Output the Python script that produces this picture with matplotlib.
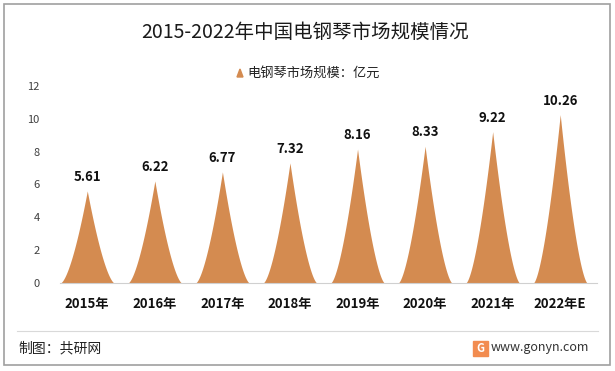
import numpy as np
import matplotlib
matplotlib.use("Agg")
import matplotlib.pyplot as plt
from matplotlib.patches import Rectangle
from matplotlib.lines import Line2D

plt.rcParams['font.family'] = ['Noto Sans CJK SC', 'DejaVu Sans']

years = ["2015年", "2016年", "2017年", "2018年", "2019年", "2020年", "2021年", "2022年E"]
values = [5.61, 6.22, 6.77, 7.32, 8.16, 8.33, 9.22, 10.26]
series_name = "电钢琴市场规模：亿元"
title = "2015-2022年中国电钢琴市场规模情况"
color = "#D48B50"

W, H = 615, 371
fig = plt.figure(figsize=(W / 100, H / 100), dpi=100)
ax = fig.add_axes([53.5 / W, 1 - 283 / H, (594 - 53.5) / W, (283 - 86) / H])

# pointed "peak" shapes
half = 0.40
for i, v in enumerate(values):
    t = np.linspace(-1, 1, 301)
    ax.fill_between(i + t * half, 0, v * (1 - np.abs(t)) ** 1.55, color=color, lw=0)
    ax.text(i, v + 0.85, f"{v:.2f}", ha="center", va="center",
            fontsize=9.5, fontweight="bold", color="#111111")

ax.set_xlim(-0.5, len(values) - 0.5)
ax.set_ylim(0, 12)
ax.set_yticks(range(0, 13, 2))
ax.set_xticks(range(len(years)))
ax.set_xticklabels(years, fontsize=9.5, fontweight="bold", color="#111111")
ax.tick_params(axis="y", length=0, labelsize=8, labelcolor="#404040", pad=10)
ax.tick_params(axis="x", length=0, pad=10)
for s in ax.spines.values():
    s.set_visible(False)

fig.add_artist(Line2D([60 / W, 597 / W], [1 - 283 / H] * 2, color="#D0D0D0", lw=0.8))

fig.text(305 / W, 1 - 32 / H, title, ha="center", va="center", fontsize=14, color="#1a1a1a")

# legend
fig.text(314 / W, 1 - 73 / H, series_name, ha="center", va="center", fontsize=9.5, color="#222222")
fig.patches.append(plt.Polygon([[237 / W, 1 - 77 / H], [243 / W, 1 - 77 / H], [240 / W, 1 - 69 / H]],
                               closed=True, transform=fig.transFigure, color=color))

# footer
fig.add_artist(Line2D([17 / W, 598 / W], [1 - 331 / H] * 2, color="#D9D9D9", lw=0.8))
fig.text(18 / W, 1 - 348 / H, "制图：共研网", ha="left", va="center", fontsize=10, color="#222222")
fig.text(589 / W, 1 - 347 / H, "www.gonyn.com", ha="right", va="center", fontsize=9, color="#333333")
fig.patches.append(Rectangle((473 / W, 1 - 356 / H), 15 / W, 15 / H, transform=fig.transFigure,
                             color="#F28C50"))
fig.text(480.5 / W, 1 - 348.5 / H, "G", ha="center", va="center", fontsize=8,
         fontweight="bold", color="white")

# border
fig.patches.append(Rectangle((4 / W, 6 / H), 606 / W, 361 / H, transform=fig.transFigure,
                             fill=False, edgecolor="#A0A0A0", lw=1.2))

fig.savefig("out.png", dpi=100)
